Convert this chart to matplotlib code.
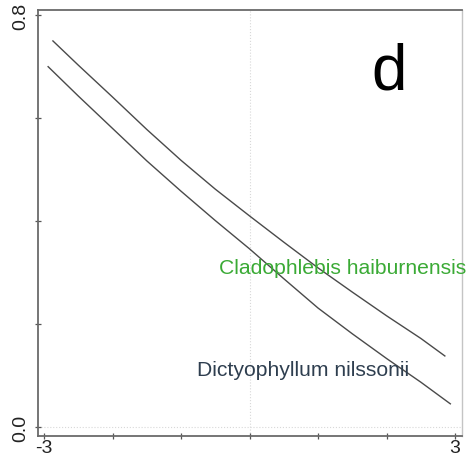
import numpy as np
import matplotlib.pyplot as plt

plt.rcParams['font.family'] = ['Liberation Sans', 'DejaVu Sans']

# fitted response curves, read at half-unit steps along the gradient
x_clad = [-2.87, -2.5, -2.0, -1.5, -1.0, -0.5, 0.0, 0.5, 1.0, 1.5, 2.0, 2.5, 2.85]
y_clad = [0.750, 0.703, 0.641, 0.578, 0.518, 0.462, 0.410, 0.359, 0.309, 0.262, 0.216, 0.172, 0.138]

x_dict = [-2.94, -2.5, -2.0, -1.5, -1.0, -0.5, 0.0, 0.5, 1.0, 1.5, 2.0, 2.5, 2.93]
y_dict = [0.700, 0.643, 0.580, 0.517, 0.458, 0.401, 0.346, 0.288, 0.231, 0.181, 0.133, 0.087, 0.045]

x_ticks = [-3, -2, -1, 0, 1, 2, 3]
x_labels = ['-3', '', '', '', '', '', '3']
y_ticks = [0.0, 0.2, 0.4, 0.6, 0.8]
y_labels = ['0.0', '', '', '', '0.8']

fig = plt.figure(figsize=(4.73, 4.60), dpi=100)
ax = fig.add_axes([0.0803, 0.05, 0.8964, 0.926])

line_col = '#4a4a4a'
ax.plot(x_clad, y_clad, color=line_col, lw=1.0)
ax.plot(x_dict, y_dict, color=line_col, lw=1.0)

# faint dotted reference lines at x = 0 and y = 0
ax.axvline(0, color='#d8d8d8', lw=0.8, ls=':', zorder=0)
ax.axhline(0, color='#d8d8d8', lw=0.8, ls=':', zorder=0)

ax.set_xlim(-3.088, 3.10)
ax.set_ylim(-0.0175, 0.81)

ax.set_xticks(x_ticks)
ax.set_xticklabels(x_labels)
ax.set_yticks(y_ticks)
ax.set_yticklabels(y_labels, rotation=90, va='center')
ax.tick_params(axis='both', direction='inout', length=5, width=0.9,
               color='#555555', labelsize=14, labelcolor='#222222')
ax.tick_params(axis='x', pad=0)
ax.tick_params(axis='y', pad=4)

for side in ['left', 'bottom', 'top']:
    ax.spines[side].set_color('#6a6a6a')
    ax.spines[side].set_linewidth(1.3)
ax.spines['right'].set_color('#c4c4c4')
ax.spines['right'].set_linewidth(1.0)

ax.text(-0.45, 0.31, 'Cladophlebis haiburnensis', color='#3aaa35',
        fontsize=15.2, va='center', ha='left', clip_on=False)
ax.text(-0.76, 0.112, 'Dictyophyllum nilssonii', color='#2e3e4f',
        fontsize=15.2, va='center', ha='left')
ax.text(1.78, 0.69, 'd', color='black', fontsize=46, va='center', ha='left')

fig.savefig('out.png', dpi=100)
